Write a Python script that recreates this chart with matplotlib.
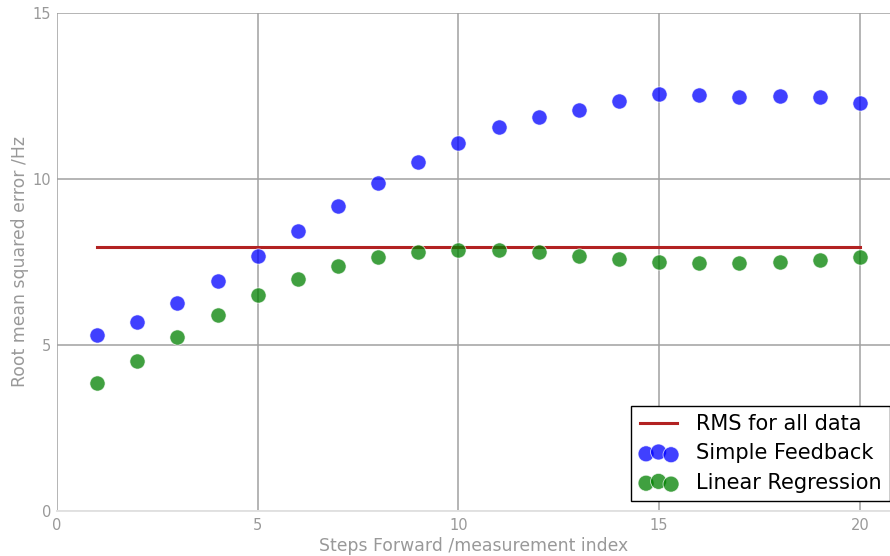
import numpy as np
import matplotlib
matplotlib.use("Agg")
import matplotlib.pyplot as plt

steps = np.arange(1, 21)

simple_feedback = [5.30, 5.69, 6.27, 6.93, 7.67, 8.43, 9.17, 9.86, 10.52, 11.07,
                   11.57, 11.87, 12.08, 12.35, 12.55, 12.52, 12.47, 12.48, 12.45, 12.29]
linear_regression = [3.84, 4.53, 5.24, 5.91, 6.51, 6.99, 7.38, 7.64, 7.81, 7.86,
                     7.86, 7.79, 7.69, 7.59, 7.51, 7.47, 7.46, 7.50, 7.57, 7.65]
rms_all = 7.94

fig = plt.figure(figsize=(8.9, 5.56), dpi=100)
ax = fig.add_axes([0.064, 0.081, 0.936, 0.896])

ax.plot([steps[0], steps[-1]], [rms_all, rms_all], color="#b22222", lw=2.2,
        label="RMS for all data", zorder=3)
ax.scatter(steps, simple_feedback, s=120, color="b", alpha=0.75,
           edgecolors="white", linewidths=0.6, label="Simple Feedback", zorder=4)
ax.scatter(steps, linear_regression, s=120, color="g", alpha=0.75,
           edgecolors="white", linewidths=0.6, label="Linear Regression", zorder=4)

ax.set_xlim(0, 20.75)
ax.set_ylim(0, 15)
ax.set_xticks([0, 5, 10, 15, 20])
ax.set_yticks([0, 5, 10, 15])

ax.set_axisbelow(True)
ax.grid(True, color="#a0a0a0", lw=1.1)
for side in ["right", "top", "left"]:
    ax.spines[side].set_visible(False)
ax.spines["bottom"].set_color("#e2e2e2")
ax.spines["bottom"].set_linewidth(1.4)
ax.spines["bottom"].set_zorder(2)

ax.tick_params(length=0, colors="#999999", labelsize=10.5)
ax.tick_params(axis="x", pad=5)
ax.tick_params(axis="y", pad=4)
ax.set_xlabel("Steps Forward /measurement index", color="#999999", fontsize=12.4, labelpad=3)
ax.set_ylabel("Root mean squared error /Hz", color="#999999", fontsize=12.4, labelpad=3)

leg = ax.legend(loc="lower right", bbox_to_anchor=(1.0, 0.02), borderaxespad=0,
                scatterpoints=3, fontsize=15, fancybox=False, framealpha=1,
                edgecolor="black", handlelength=1.8, handletextpad=0.9,
                borderpad=0.4, labelspacing=0.45, markerscale=1.05)
leg.get_frame().set_linewidth(1.0)

fig.savefig("out.png", dpi=100)
